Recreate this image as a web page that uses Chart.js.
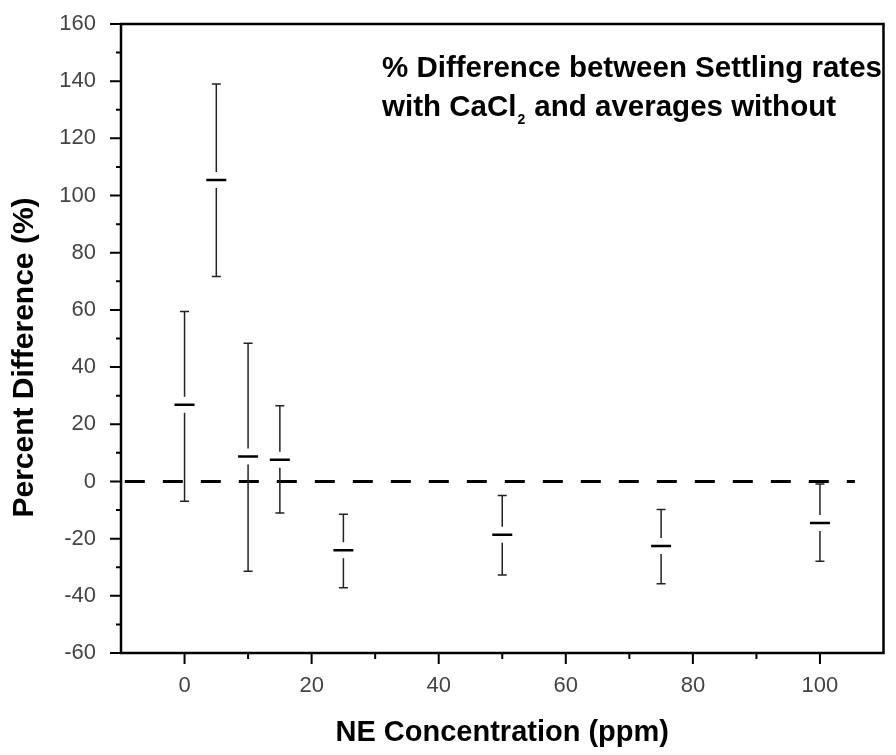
<!DOCTYPE html>
<html>
<head>
<meta charset="utf-8">
<script src="https://cdn.jsdelivr.net/npm/chart.js@4.4.1/dist/chart.umd.min.js"></script>
<style>
  html, body { margin: 0; padding: 0; background: #ffffff; }
  #wrap { width: 896px; height: 755px; }
</style>
</head>
<body>
<div id="wrap"><canvas id="c" width="896" height="755"></canvas></div>
<script>
// ---- data ----
const concentrations = [0, 5, 10, 15, 25, 50, 75, 100];
const meanDiff  = [26.8, 105.4, 8.7, 7.6, -24.1, -18.6, -22.6, -14.5];
const upperDiff = [59.4, 139.0, 48.3, 26.5, -11.5, -4.9, -9.8, -0.9];
const lowerDiff = [-6.9, 71.7, -31.4, -11.0, -37.2, -32.7, -35.8, -27.9];
const zeroLineX = [-9.4, 105.5];
const zeroLineY = [0, 0];
const xTicks = [0, 20, 40, 60, 80, 100];
const xMinorTicks = [10, 30, 50, 70, 90];
const yTicks = [-60, -40, -20, 0, 20, 40, 60, 80, 100, 120, 140, 160];
const yMinorTicks = [-50, -30, -10, 10, 30, 50, 70, 90, 110, 130, 150];
const xTitle = 'NE Concentration (ppm)';
const yTitle = 'Percent Difference (%)';
const noteLine1 = '% Difference between Settling rates';
const noteLine2a = 'with CaCl';
const noteSub = '2';
const noteLine2b = ' and averages without';

const FONT = '"Liberation Sans", Arial, sans-serif';

const framePlugin = {
  id: 'frameAndExtras',
  afterDatasetsDraw(chart) {
    const { ctx, chartArea: ca, scales: { x, y } } = chart;
    ctx.save();
    // error bars
    ctx.strokeStyle = '#222';
    ctx.lineWidth = 1.5;
    concentrations.forEach((c, i) => {
      const px = x.getPixelForValue(c);
      const pm = y.getPixelForValue(meanDiff[i]);
      const pt = y.getPixelForValue(upperDiff[i]);
      const pb = y.getPixelForValue(lowerDiff[i]);
      const gap = 8, cap = 4.5;
      ctx.beginPath();
      if (pm - gap > pt) { ctx.moveTo(px, pt); ctx.lineTo(px, pm - gap); }
      if (pm + gap < pb) { ctx.moveTo(px, pm + gap); ctx.lineTo(px, pb); }
      ctx.moveTo(px - cap, pt); ctx.lineTo(px + cap, pt);
      ctx.moveTo(px - cap, pb); ctx.lineTo(px + cap, pb);
      ctx.stroke();
    });
    // frame
    ctx.strokeStyle = '#000';
    ctx.lineWidth = 2.5;
    ctx.strokeRect(ca.left, ca.top, ca.right - ca.left, ca.bottom - ca.top);
    // ticks
    ctx.lineWidth = 2;
    ctx.beginPath();
    xTicks.forEach(v => { const p = x.getPixelForValue(v); ctx.moveTo(p, ca.bottom); ctx.lineTo(p, ca.bottom + 11); });
    xMinorTicks.forEach(v => { const p = x.getPixelForValue(v); ctx.moveTo(p, ca.bottom); ctx.lineTo(p, ca.bottom + 6); });
    yTicks.forEach(v => { const p = y.getPixelForValue(v); ctx.moveTo(ca.left, p); ctx.lineTo(ca.left - 11, p); });
    yMinorTicks.forEach(v => { const p = y.getPixelForValue(v); ctx.moveTo(ca.left, p); ctx.lineTo(ca.left - 5, p); });
    ctx.stroke();
    // y-axis title
    ctx.fillStyle = '#000';
    ctx.font = 'bold 30px ' + FONT;
    ctx.textAlign = 'center';
    ctx.textBaseline = 'middle';
    ctx.save();
    ctx.translate(24.5, 357.5);
    ctx.rotate(-Math.PI / 2);
    ctx.fillText(yTitle, 0, 0);
    ctx.restore();
    // annotation
    ctx.textAlign = 'left';
    ctx.textBaseline = 'alphabetic';
    ctx.font = 'bold 29.5px ' + FONT;
    const tx = 382;
    ctx.fillText(noteLine1, tx, 77);
    ctx.fillText(noteLine2a, tx, 116);
    let w = ctx.measureText(noteLine2a).width;
    ctx.font = 'bold 14px ' + FONT;
    ctx.fillText(noteSub, tx + w + 1, 124);
    const ws = ctx.measureText(noteSub).width;
    ctx.font = 'bold 29.5px ' + FONT;
    ctx.fillText(noteLine2b, tx + w + ws + 2, 116);
    ctx.restore();
  }
};

new Chart(document.getElementById('c').getContext('2d'), {
  type: 'scatter',
  data: {
    datasets: [
      {
        label: 'zero',
        data: zeroLineX.map((v, i) => ({ x: v, y: zeroLineY[i] })),
        showLine: true,
        borderColor: '#000',
        borderWidth: 3,
        borderDash: [20, 18],
        pointRadius: 0,
        fill: false
      },
      {
        label: 'mean',
        data: concentrations.map((v, i) => ({ x: v, y: meanDiff[i] })),
        showLine: false,
        pointStyle: 'line',
        pointRadius: 10,
        borderColor: '#000',
        backgroundColor: '#000',
        borderWidth: 2.5
      }
    ]
  },
  options: {
    responsive: false,
    animation: false,
    events: [],
    layout: { padding: { top: 24, right: 3, left: 0, bottom: 0 } },
    plugins: { legend: { display: false }, tooltip: { enabled: false } },
    scales: {
      x: {
        type: 'linear',
        min: -10,
        max: 110,
        grid: { display: false, drawTicks: false },
        border: { display: false },
        afterBuildTicks: s => { s.ticks = xTicks.map(v => ({ value: v })); },
        afterFit: s => { s.height = 102; s.paddingLeft = 0; s.paddingRight = 0; },
        ticks: {
          padding: 20,
          autoSkip: false,
          maxRotation: 0,
          color: '#444',
          font: { family: FONT, size: 22 },
          callback: v => String(v)
        },
        title: {
          display: true,
          text: xTitle,
          color: '#000',
          font: { family: FONT, size: 29, weight: 'bold' },
          padding: { top: 0, bottom: 5 }
        }
      },
      y: {
        type: 'linear',
        min: -60,
        max: 160,
        grid: { display: false, drawTicks: false },
        border: { display: false },
        afterBuildTicks: s => { s.ticks = yTicks.map(v => ({ value: v })); },
        afterFit: s => { s.width = 121; s.paddingTop = 0; s.paddingBottom = 0; },
        ticks: {
          padding: 25,
          autoSkip: false,
          color: '#444',
          font: { family: FONT, size: 22 },
          callback: v => String(v)
        }
      }
    }
  },
  plugins: [framePlugin]
});
</script>
</body>
</html>
